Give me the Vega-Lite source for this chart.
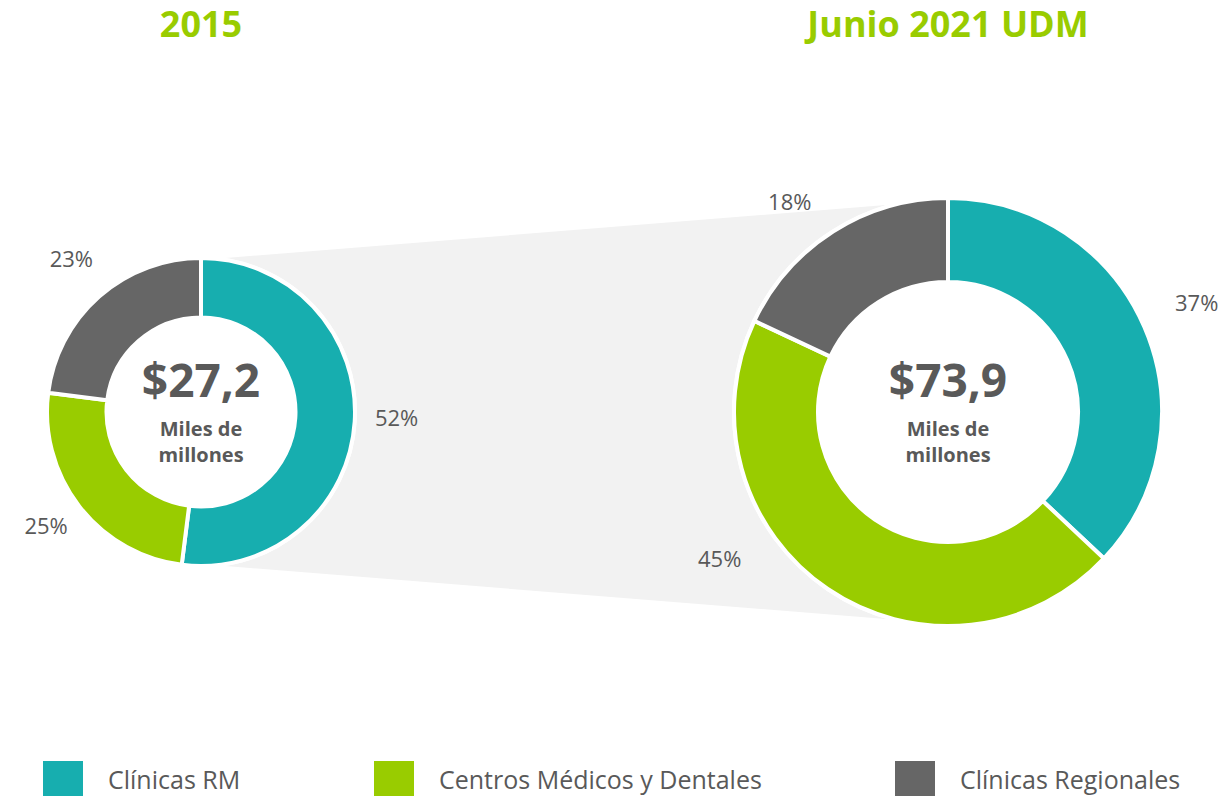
{
  "$schema": "https://vega.github.io/schema/vega-lite/v6.json",
  "width": 1227,
  "height": 796,
  "autosize": "none",
  "padding": 0,
  "background": "white",
  "config": {
    "view": {"stroke": null},
    "font": "Open Sans",
    "locale": {"number": {"decimal": ",", "thousands": ".", "grouping": [3], "currency": ["$", ""]}}
  },
  "datasets": {
    "segmentos": [
      {"periodo": "2015", "segmento": "Clínicas RM", "participacion": 0.52, "orden": 1},
      {"periodo": "2015", "segmento": "Centros Médicos y Dentales", "participacion": 0.25, "orden": 2},
      {"periodo": "2015", "segmento": "Clínicas Regionales", "participacion": 0.23, "orden": 3},
      {"periodo": "Junio 2021 UDM", "segmento": "Clínicas RM", "participacion": 0.37, "orden": 1},
      {"periodo": "Junio 2021 UDM", "segmento": "Centros Médicos y Dentales", "participacion": 0.45, "orden": 2},
      {"periodo": "Junio 2021 UDM", "segmento": "Clínicas Regionales", "participacion": 0.18, "orden": 3}
    ],
    "totales": [
      {"periodo": "2015", "total": 27.2},
      {"periodo": "Junio 2021 UDM", "total": 73.9}
    ]
  },
  "layer": [
    {
      "data": {"name": "totales"},
      "mark": {"type": "trail", "color": "#F2F2F2", "opacity": 1},
      "encoding": {
        "x": {"field": "periodo", "type": "nominal", "scale": {"type": "point", "domain": ["2015", "Junio 2021 UDM"], "range": [201, 948], "padding": 0}, "axis": null},
        "y": {"datum": 0, "type": "quantitative", "scale": {"domain": [-1, 1], "range": [612, 212], "zero": false, "nice": false}, "axis": null},
        "size": {"field": "total", "type": "quantitative", "scale": {"domain": [27.2, 73.9], "range": [304, 424], "zero": false, "nice": false}, "legend": null}
      }
    },
    {
      "data": {"name": "segmentos"},
      "transform": [{"filter": "datum.periodo == '2015'"}],
      "mark": {"type": "arc", "outerRadius": 155, "innerRadius": 0, "color": "white", "stroke": "white", "strokeWidth": 2},
      "encoding": {
        "x": {"field": "periodo", "type": "nominal"},
        "y": {"datum": 0, "type": "quantitative"},
        "theta": {"field": "participacion", "type": "quantitative", "stack": true, "scale": {"domain": [0, 1]}},
        "order": {"field": "orden", "type": "quantitative"}
      }
    },
    {
      "data": {"name": "segmentos"},
      "transform": [{"filter": "datum.periodo != '2015'"}],
      "mark": {"type": "arc", "outerRadius": 215, "innerRadius": 0, "color": "white", "stroke": "white", "strokeWidth": 2},
      "encoding": {
        "x": {"field": "periodo", "type": "nominal"},
        "y": {"datum": 0, "type": "quantitative"},
        "theta": {"field": "participacion", "type": "quantitative", "stack": true},
        "order": {"field": "orden", "type": "quantitative"}
      }
    },
    {
      "data": {"name": "segmentos"},
      "transform": [{"filter": "datum.periodo == '2015'"}],
      "mark": {"type": "arc", "outerRadius": 154, "innerRadius": 94.5, "stroke": "white", "strokeWidth": 4},
      "encoding": {
        "x": {"field": "periodo", "type": "nominal"},
        "y": {"datum": 0, "type": "quantitative"},
        "theta": {"field": "participacion", "type": "quantitative", "stack": true},
        "order": {"field": "orden", "type": "quantitative"},
        "color": {
          "field": "segmento", "type": "nominal",
          "scale": {"domain": ["Clínicas RM", "Centros Médicos y Dentales", "Clínicas Regionales"], "range": ["#17AEAF", "#99CC00", "#666666"]},
          "legend": {
            "title": null, "orient": "none", "legendX": 43, "legendY": 761, "direction": "horizontal",
            "symbolType": "square", "symbolSize": 1600, "symbolStrokeWidth": 0, "symbolOpacity": 1,
            "labelFontSize": 25, "labelColor": "#595959", "labelFont": "Open Sans", "labelOffset": 25,
            "columnPadding": 133, "padding": 0, "labelLimit": 600
          }
        }
      }
    },
    {
      "data": {"name": "segmentos"},
      "transform": [{"filter": "datum.periodo != '2015'"}],
      "mark": {"type": "arc", "outerRadius": 214, "innerRadius": 130, "stroke": "white", "strokeWidth": 4},
      "encoding": {
        "x": {"field": "periodo", "type": "nominal"},
        "y": {"datum": 0, "type": "quantitative"},
        "theta": {"field": "participacion", "type": "quantitative", "stack": true},
        "order": {"field": "orden", "type": "quantitative"},
        "color": {"field": "segmento", "type": "nominal"}
      }
    },
    {
      "data": {"name": "segmentos"},
      "transform": [{"filter": "datum.periodo == '2015'"}],
      "mark": {"type": "text", "radius": 196, "dy": -5, "fontSize": 22, "color": "#595959", "align": "center", "baseline": "middle"},
      "encoding": {
        "x": {"field": "periodo", "type": "nominal"},
        "y": {"datum": 0, "type": "quantitative"},
        "theta": {"field": "participacion", "type": "quantitative", "stack": true},
        "order": {"field": "orden", "type": "quantitative"},
        "text": {"field": "participacion", "type": "quantitative", "format": ".0%"}
      }
    },
    {
      "data": {"name": "segmentos"},
      "transform": [{"filter": "datum.periodo != '2015'"}],
      "mark": {"type": "text", "radius": 271, "fontSize": 22, "color": "#595959", "align": "center", "baseline": "middle"},
      "encoding": {
        "x": {"field": "periodo", "type": "nominal"},
        "y": {"datum": 0, "type": "quantitative"},
        "theta": {"field": "participacion", "type": "quantitative", "stack": true},
        "order": {"field": "orden", "type": "quantitative"},
        "text": {"condition": {"test": "datum.segmento == 'Clínicas RM'", "field": "participacion", "type": "quantitative", "format": ".0%"}, "value": ""}
      }
    },
    {
      "data": {"name": "segmentos"},
      "transform": [{"filter": "datum.periodo != '2015'"}],
      "mark": {"type": "text", "radius": 271, "dx": -76, "dy": -76, "fontSize": 22, "color": "#595959", "align": "center", "baseline": "middle"},
      "encoding": {
        "x": {"field": "periodo", "type": "nominal"},
        "y": {"datum": 0, "type": "quantitative"},
        "theta": {"field": "participacion", "type": "quantitative", "stack": true},
        "order": {"field": "orden", "type": "quantitative"},
        "text": {"condition": {"test": "datum.segmento == 'Centros Médicos y Dentales'", "field": "participacion", "type": "quantitative", "format": ".0%"}, "value": ""}
      }
    },
    {
      "data": {"name": "segmentos"},
      "transform": [{"filter": "datum.periodo != '2015'"}],
      "mark": {"type": "text", "radius": 271, "dx": -13, "dy": 20, "fontSize": 22, "color": "#595959", "align": "center", "baseline": "middle"},
      "encoding": {
        "x": {"field": "periodo", "type": "nominal"},
        "y": {"datum": 0, "type": "quantitative"},
        "theta": {"field": "participacion", "type": "quantitative", "stack": true},
        "order": {"field": "orden", "type": "quantitative"},
        "text": {"condition": {"test": "datum.segmento == 'Clínicas Regionales'", "field": "participacion", "type": "quantitative", "format": ".0%"}, "value": ""}
      }
    },
    {
      "data": {"name": "totales"},
      "mark": {"type": "text", "dy": -375, "fontSize": 36, "fontWeight": "bold", "color": "#99CC00", "align": "center", "baseline": "alphabetic"},
      "encoding": {
        "x": {"field": "periodo", "type": "nominal"},
        "y": {"datum": 0, "type": "quantitative"},
        "text": {"field": "periodo", "type": "nominal"}
      }
    },
    {
      "data": {"name": "totales"},
      "mark": {"type": "text", "dy": -15, "fontSize": 46, "fontWeight": "bold", "color": "#595959", "align": "center", "baseline": "alphabetic"},
      "encoding": {
        "x": {"field": "periodo", "type": "nominal"},
        "y": {"datum": 0, "type": "quantitative"},
        "text": {"field": "total", "type": "quantitative", "format": "$.1f"}
      }
    },
    {
      "data": {"name": "totales"},
      "mark": {"type": "text", "dy": 24, "fontSize": 20, "fontWeight": "bold", "lineHeight": 26, "color": "#595959", "align": "center", "baseline": "alphabetic"},
      "encoding": {
        "x": {"field": "periodo", "type": "nominal"},
        "y": {"datum": 0, "type": "quantitative"},
        "text": {"value": ["Miles de", "millones"]}
      }
    }
  ]
}
